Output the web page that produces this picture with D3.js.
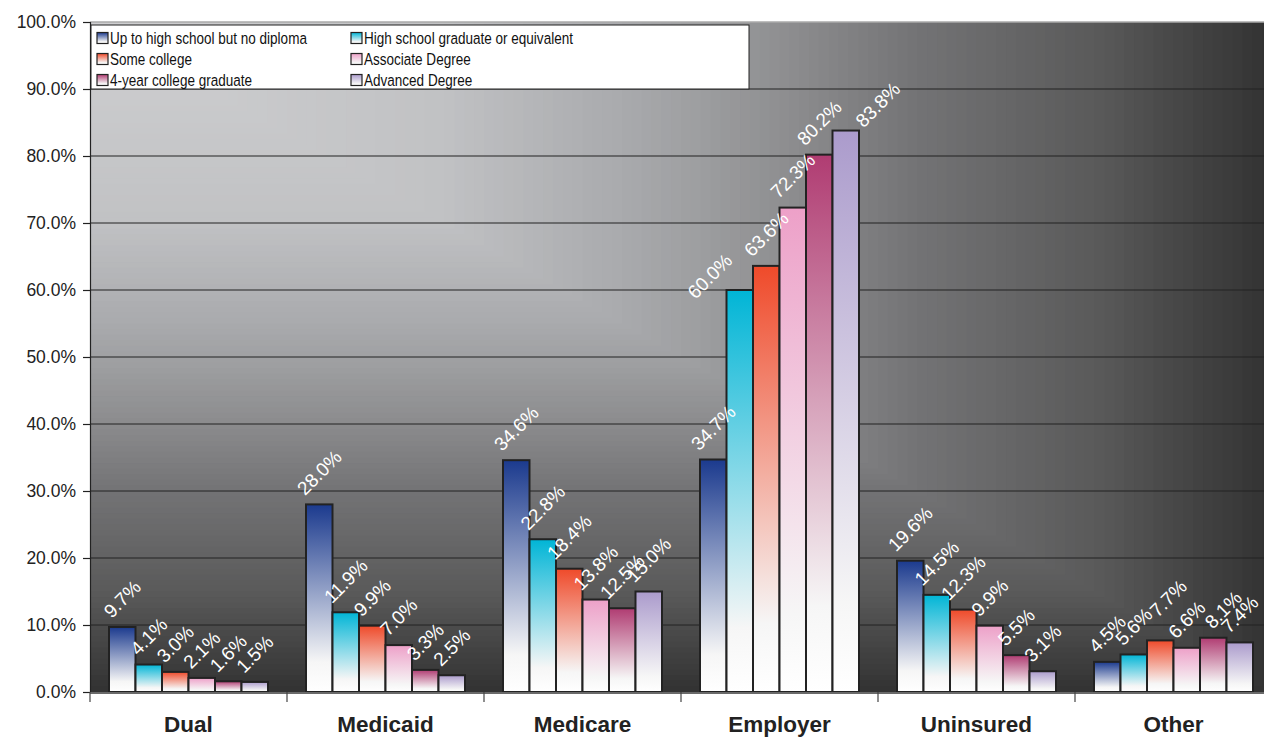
<!DOCTYPE html>
<html>
<head>
<meta charset="utf-8">
<script src="https://cdn.jsdelivr.net/npm/d3@7"></script>
<style>
  html, body { margin: 0; padding: 0; background: #ffffff; }
  svg { display: block; font-family: "Liberation Sans", Arial, sans-serif; }
</style>
</head>
<body>
<svg id="chart" width="1264" height="738"></svg>
<script>
// ---------------- data ----------------
const categories = ["Dual", "Medicaid", "Medicare", "Employer", "Uninsured", "Other"];
const seriesNames = [
  "Up to high school but no diploma",
  "High school graduate or equivalent",
  "Some college",
  "Associate Degree",
  "4-year college graduate",
  "Advanced Degree"
];
const noDiploma   = [9.7, 28.0, 34.6, 34.7, 19.6, 4.5];
const hsGraduate  = [4.1, 11.9, 22.8, 60.0, 14.5, 5.6];
const someCollege = [3.0, 9.9, 18.4, 63.6, 12.3, 7.7];
const associate   = [2.1, 7.0, 13.8, 72.3, 9.9, 6.6];
const fourYear    = [1.6, 3.3, 12.5, 80.2, 5.5, 8.1];
const advanced    = [1.5, 2.5, 15.0, 83.8, 3.1, 7.4];
const seriesValues = [noDiploma, hsGraduate, someCollege, associate, fourYear, advanced];
const yTicks = [0, 10, 20, 30, 40, 50, 60, 70, 80, 90, 100];

// ---------------- styles ----------------
const seriesColors = ["#1b3a8e", "#00b5d6", "#ef4a2a", "#eda0c8", "#b03c72", "#ab9bcc"];
// hand-placed label offsets seen in the reference (category|series -> [dx, dy] px)
const labelNudge = {
  "Employer|1": [-30, 18],
  "Employer|5": [32, 6],
  "Other|2": [8, -14],
  "Other|4": [10, 0]
};

const svg = d3.select("#chart");
const margin = { left: 90, top: 22, right: 1272, bottom: 692 };

const x0 = d3.scaleBand().domain(categories).range([margin.left, margin.right]).paddingInner(0).paddingOuter(0);
const x1 = d3.scaleBand().domain(d3.range(seriesNames.length)).range([19, x0.bandwidth() - 19]).padding(0);
const y = d3.scaleLinear().domain([0, 100]).range([margin.bottom, margin.top]);

const defs = svg.append("defs");
seriesColors.forEach((c, i) => {
  const g = defs.append("linearGradient").attr("id", "grad" + i)
    .attr("x1", 0).attr("y1", 0).attr("x2", 0).attr("y2", 1);
  g.append("stop").attr("offset", "0%").attr("stop-color", c);
  g.append("stop").attr("offset", "84%").attr("stop-color", "#f6f6f6");
  g.append("stop").attr("offset", "100%").attr("stop-color", "#ffffff");
});

// ---------------- plot background (corner gradient) ----------------
const W = margin.right - margin.left, H = margin.bottom - margin.top;
const bgColor = d3.scaleLinear()
  .domain([0, 0.3, 0.46, 0.52, 0.6, 0.71, 0.86, 0.92, 1.0])
  .range(["#cfcfd1", "#c1c2c4", "#a8a9ac", "#9d9ea0", "#8c8c8e", "#727274", "#595959", "#484848", "#333333"]);
const bg = svg.append("g");
const N = 120;
for (let i = N; i >= 1; i--) {
  const t = i / N;
  bg.append("rect")
    .attr("x", margin.left).attr("y", margin.top)
    .attr("width", W * t).attr("height", H * t)
    .attr("fill", bgColor(t));
}

// ---------------- gridlines ----------------
svg.append("g").selectAll("line").data(yTicks.filter(d => d > 0 && d < 100)).join("line")
  .attr("x1", margin.left).attr("x2", margin.right)
  .attr("y1", d => y(d)).attr("y2", d => y(d))
  .attr("stroke", "#232323").attr("stroke-width", 1.2);
svg.append("line").attr("x1", margin.left).attr("x2", margin.right)
  .attr("y1", y(100)).attr("y2", y(100)).attr("stroke", "#aaaaaa").attr("stroke-width", 1.5);

// ---------------- bars ----------------
const groups = svg.append("g").selectAll("g").data(categories).join("g")
  .attr("transform", d => `translate(${x0(d)},0)`);

groups.selectAll("rect").data((c, ci) => seriesValues.map((vals, si) => ({ si, v: vals[ci] }))).join("rect")
  .attr("x", d => x1(d.si))
  .attr("width", x1.bandwidth())
  .attr("y", d => y(d.v))
  .attr("height", d => y(0) - y(d.v))
  .attr("fill", d => `url(#grad${d.si})`)
  .attr("stroke", "#222222").attr("stroke-width", 2);

// ---------------- data labels ----------------
const labelG = svg.append("g");
categories.forEach((c, ci) => {
  seriesValues.forEach((vals, si) => {
    const v = vals[ci];
    const nudge = labelNudge[c + "|" + si] || [0, 0];
    const cx = x0(c) + x1(si) + x1.bandwidth() / 2 + nudge[0];
    const t = labelG.append("text")
      .attr("fill", "#ffffff")
      .attr("font-size", 19)
      .attr("text-anchor", "middle")
      .attr("dy", "0.35em")
      .text(v.toFixed(1) + "%");
    const w = t.node().getComputedTextLength();
    const side = (w + 13.5) * Math.SQRT1_2;
    const cy = y(v) - 8 - side / 2 + nudge[1];
    t.attr("transform", `translate(${cx},${cy}) rotate(-45)`);
  });
});

// ---------------- axes ----------------
const yAxisG = svg.append("g").attr("transform", `translate(${margin.left},0)`)
  .call(d3.axisLeft(y).tickValues(yTicks).tickSize(7).tickPadding(7).tickFormat(d => d.toFixed(1) + "%"));
yAxisG.select(".domain").attr("stroke", "#222").attr("stroke-width", 1.2);
yAxisG.selectAll(".tick line").attr("stroke", "#222").attr("stroke-width", 1.2);
yAxisG.selectAll(".tick text").attr("font-size", 17.5).attr("fill", "#222")
  .attr("font-family", "'Liberation Sans', Arial, sans-serif");

svg.append("line").attr("x1", margin.left).attr("x2", margin.right)
  .attr("y1", y(0) + 1).attr("y2", y(0) + 1).attr("stroke", "#6a6a6a").attr("stroke-width", 2);
const boundaries = categories.map(c => x0(c)).concat([margin.right]);
svg.append("g").selectAll("line").data(boundaries).join("line")
  .attr("x1", d => d).attr("x2", d => d)
  .attr("y1", y(0)).attr("y2", y(0) + 10)
  .attr("stroke", "#444").attr("stroke-width", 1.2);

svg.append("g").selectAll("text").data(categories).join("text")
  .attr("x", d => x0(d) + x0.bandwidth() / 2)
  .attr("y", 732)
  .attr("text-anchor", "middle")
  .attr("font-size", 22.5).attr("font-weight", "bold").attr("fill", "#222")
  .text(d => d);

// ---------------- legend ----------------
const lg = svg.append("g");
lg.append("rect").attr("x", 91).attr("y", 25).attr("width", 658).attr("height", 64)
  .attr("fill", "#ffffff").attr("stroke", "#222").attr("stroke-width", 1);
const colX = [97, 351];
const rowY = [38, 59, 80];
seriesNames.forEach((name, k) => {
  const cx = colX[k % 2], cy = rowY[Math.floor(k / 2)];
  lg.append("rect").attr("x", cx).attr("y", cy - 5.5).attr("width", 11).attr("height", 11)
    .attr("fill", `url(#grad${k})`).attr("stroke", "#222").attr("stroke-width", 1.2);
  lg.append("text").attr("x", cx + 13).attr("y", cy).attr("dy", "0.36em")
    .attr("font-size", 16.5).attr("fill", "#111")
    .attr("transform", `translate(${cx + 13},0) scale(0.82,1) translate(${-(cx + 13)},0)`)
    .text(name);
});
</script>
</body>
</html>
